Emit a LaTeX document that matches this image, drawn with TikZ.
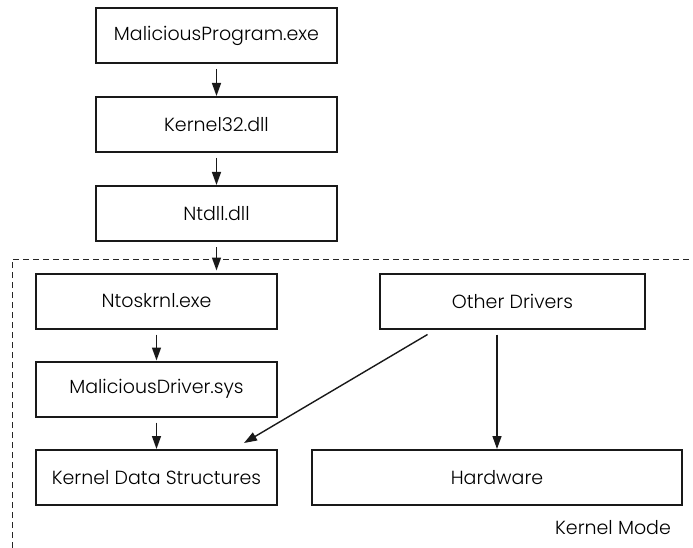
\documentclass[tikz,border=0pt]{standalone}
\usepackage{fontspec}
\setmainfont{Poppins}[UprightFont=* Light]
\usetikzlibrary{arrows.meta, positioning}
\tikzset{
  box/.style  = {rectangle, draw=black!90, line width=2pt, minimum height=55pt, align=center, font=\fontsize{19}{22}\selectfont, inner sep=0pt},
  flow/.style = {-{Triangle[length=13pt, width=9pt]}, line width=1.4pt, black!90},
  border/.style = {black!85, line width=1pt, dash pattern=on 6pt off 4pt},
}
\begin{document}
\begin{tikzpicture}[x=1pt, y=-1pt]
  % 画布
  \useasboundingbox (0,0) rectangle (693,548);

  % user mode
  \node[box, minimum width=241pt] (prog)  at (216.5, 35.5)  {MaliciousProgram.exe};
  \node[box, minimum width=241pt] (k32)   at (216.5, 124.5) {Kernel32.dll};
  \node[box, minimum width=241pt] (ntdll) at (216.5, 213.5) {Ntdll.dll};

  % kernel mode border
  \draw[border] (12,548) -- (12,259) -- (693,259);
  \node[font=\fontsize{19}{22}\selectfont] (kmode) at (613,528) {Kernel Mode};

  % kernel mode
  \node[box, minimum width=241pt] (ntos)  at (156.5, 301)   {Ntoskrnl.exe};
  \node[box, minimum width=241pt] (drv)   at (156.5, 389)   {MaliciousDriver.sys};
  \node[box, minimum width=241pt] (kds)   at (156.5, 477.5) {Kernel Data Structures};
  \node[box, minimum width=265pt] (other) at (512.5, 301)   {Other Drivers};
  \node[box, minimum width=370pt] (hw)    at (497, 477.5)   {Hardware};

  % 调用关系
  \draw[flow] ([yshift=-5pt]prog.south)  -- (k32.north);
  \draw[flow] ([yshift=-5pt]k32.south)   -- (ntdll.north);
  \draw[flow] ([yshift=-5pt]ntdll.south) -- ([yshift=2pt]ntos.north -| ntdll.south);
  \draw[flow] ([yshift=-5pt]ntos.south)  -- (drv.north);
  \draw[flow] ([yshift=-5pt]drv.south)   -- (kds.north);
  \draw[flow] ([xshift=-85pt, yshift=-5pt]other.south) -- ([xshift=-34pt, yshift=6pt]kds.north east);
  \draw[flow] ([xshift=-15.5pt, yshift=-5pt]other.south) -- (hw.north);

\end{tikzpicture}
\end{document}
